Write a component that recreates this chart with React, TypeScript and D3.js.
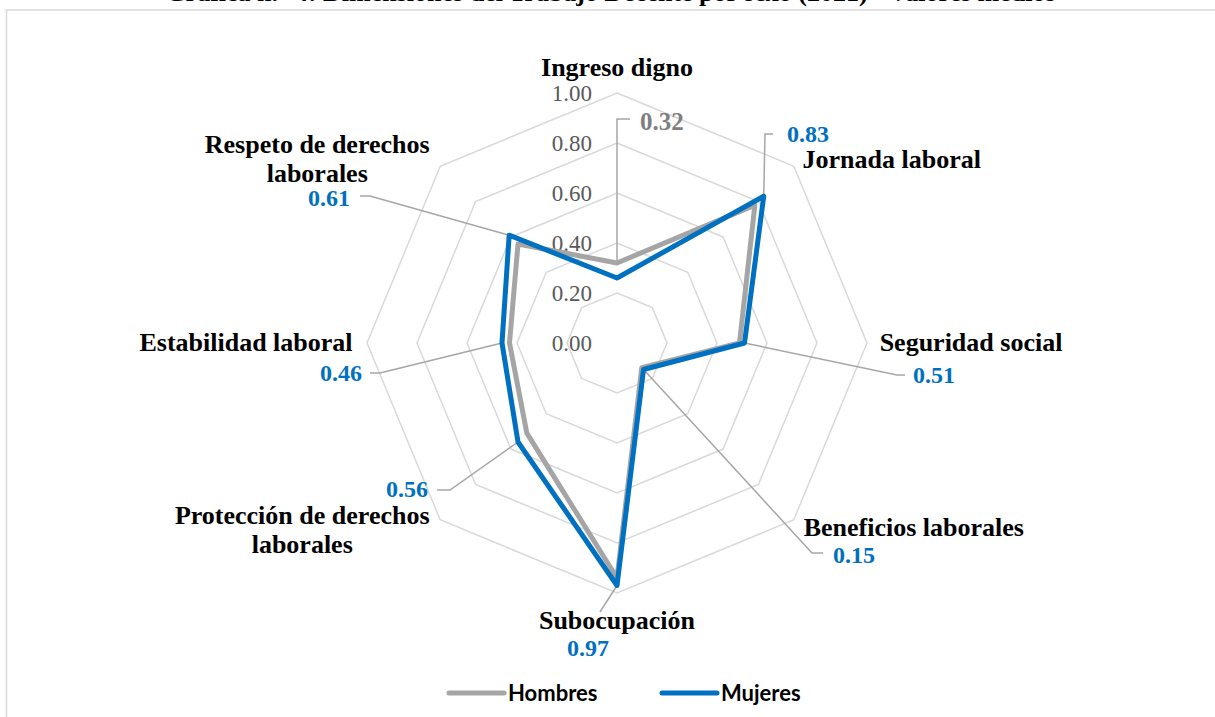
import React from 'react';
import * as d3 from 'd3';

// Dimensiones del trabajo decente, valores medios por sexo
const categories = [
  "Ingreso digno",
  "Jornada laboral",
  "Seguridad social",
  "Beneficios laborales",
  "Subocupación",
  "Protección de derechos laborales",
  "Estabilidad laboral",
  "Respeto de derechos laborales",
];
const hombres = [0.32, 0.78, 0.49, 0.14, 0.94, 0.51, 0.43, 0.56];
const mujeres = [0.26, 0.83, 0.51, 0.15, 0.97, 0.56, 0.46, 0.61];
const ticks = [0, 0.2, 0.4, 0.6, 0.8, 1.0];
const seriesNames = ["Hombres", "Mujeres"];

const W = 1215;
const H = 717;
const cx = 617;
const cy = 343;
const GRAY = "#a5a5a5";
const BLUE = "#0070c0";
const SERIF = "'Liberation Serif', 'Times New Roman', serif";

// label layout: lines, offset of block centre from axis end
const catLayout = [
  { lines: ["Ingreso digno"], dx: 0, dy: -26 },
  { lines: ["Jornada laboral"], dx: 98, dy: -7 },
  { lines: ["Seguridad social"], dx: 104, dy: -1 },
  { lines: ["Beneficios laborales"], dx: 120, dy: 7 },
  { lines: ["Subocupación"], dx: 0, dy: 27 },
  { lines: ["Protección de derechos", "laborales"], dx: -138, dy: 10 },
  { lines: ["Estabilidad laboral"], dx: -121, dy: -1 },
  { lines: ["Respeto de derechos", "laborales"], dx: -123, dy: -8 },
];

// data label placement: which series, leader elbow/end, text anchor
const valueLayout = [
  { s: 0, elbow: [617, 119], end: [630, 119], x: 640, y: 121, anchor: "start" },
  { s: 1, elbow: [765, 134], end: [773, 134], x: 787, y: 134, anchor: "start" },
  { s: 1, elbow: [897, 375], end: [905, 375], x: 913, y: 375, anchor: "start" },
  { s: 1, elbow: [812, 553], end: [823, 553], x: 833, y: 555, anchor: "start" },
  { s: 1, elbow: [600, 612], end: [600, 612], x: 588, y: 648, anchor: "middle" },
  { s: 1, elbow: [450, 490], end: [437, 490], x: 428, y: 489, anchor: "end" },
  { s: 1, elbow: [380, 373], end: [370, 373], x: 362, y: 373, anchor: "end" },
  { s: 1, elbow: [370, 196], end: [360, 196], x: 350, y: 198, anchor: "end" },
];

const App = () => {
  const r = d3.scaleLinear().domain([0, 1]).range([0, 250]);
  const angle = d3.scaleLinear().domain([0, categories.length]).range([0, 2 * Math.PI]);

  const radial = d3.lineRadial<number>()
    .angle((_, i) => angle(i))
    .radius(d => r(d))
    .curve(d3.curveLinearClosed);

  const pt = (v: number, i: number): [number, number] => [
    cx + r(v) * Math.sin(angle(i)),
    cy - r(v) * Math.cos(angle(i)),
  ];

  const series = [hombres, mujeres];
  const colors = [GRAY, BLUE];

  return (
    <svg width={W} height={H} style={{ position: 'absolute', left: 0, top: 0, background: '#fff' }}>
      <text x={W / 2 + 3} y={0.5} textAnchor="middle" fontFamily={SERIF} fontWeight="bold" fontSize={26}>
        Gráfica n.° 4: Dimensiones del Trabajo Decente por sexo (2021) - Valores medios
      </text>
      <rect x={6.5} y={10} width={W} height={H} fill="none" stroke="#d9d9d9" strokeWidth={1.5} />

      <g transform={`translate(${cx},${cy})`}>
        {ticks.filter(t => t > 0).map(t => (
          <path key={t} d={radial(categories.map(() => t)) || ""} fill="none" stroke="#d9d9d9" strokeWidth={1.5} />
        ))}
      </g>

      {ticks.map(t => (
        <text key={t} x={592} y={cy - r(t)} dy="0.35em" textAnchor="end" fontFamily={SERIF} fontSize={23} fill="#595959">
          {t.toFixed(2)}
        </text>
      ))}

      {/* leader lines */}
      {valueLayout.map((l, i) => {
        const p = pt(series[l.s][i], i);
        return (
          <polyline key={i} points={`${p[0]},${p[1]} ${l.elbow[0]},${l.elbow[1]} ${l.end[0]},${l.end[1]}`}
            fill="none" stroke="#a6a6a6" strokeWidth={1.5} />
        );
      })}

      <g transform={`translate(${cx},${cy})`}>
        {series.map((s, k) => (
          <path key={k} d={radial(s) || ""} fill="none" stroke={colors[k]} strokeWidth={5} strokeLinejoin="round" />
        ))}
      </g>

      {categories.map((c, i) => {
        const [ax, ay] = pt(1, i);
        const lay = catLayout[i];
        const n = lay.lines.length;
        return (
          <text key={c} textAnchor="middle" fontFamily={SERIF} fontWeight="bold" fontSize={26} fill="#000">
            {lay.lines.map((ln, j) => (
              <tspan key={j} x={ax + lay.dx} y={ay + lay.dy + (j - (n - 1) / 2) * 29} dy="0.35em">{ln}</tspan>
            ))}
          </text>
        );
      })}

      {valueLayout.map((l, i) => (
        <text key={i} x={l.x} y={l.y} dy="0.35em" textAnchor={l.anchor} fontFamily={SERIF} fontWeight="bold"
          fontSize={l.s === 0 ? 25 : 24} fill={l.s === 0 ? "#7f7f7f" : BLUE}>
          {series[l.s][i].toFixed(2)}
        </text>
      ))}

      {/* legend */}
      {seriesNames.map((name, k) => {
        const x0 = k === 0 ? 449 : 662;
        return (
          <g key={name}>
            <line x1={x0} x2={x0 + 55} y1={693} y2={693} stroke={colors[k]} strokeWidth={5} strokeLinecap="round" />
            <text x={x0 + 59} y={693} dy="0.35em" fontFamily="Lato, 'Open Sans', sans-serif" fontWeight="bold" fontSize={22}>
              {name}
            </text>
          </g>
        );
      })}
    </svg>
  );
};

export default App;
